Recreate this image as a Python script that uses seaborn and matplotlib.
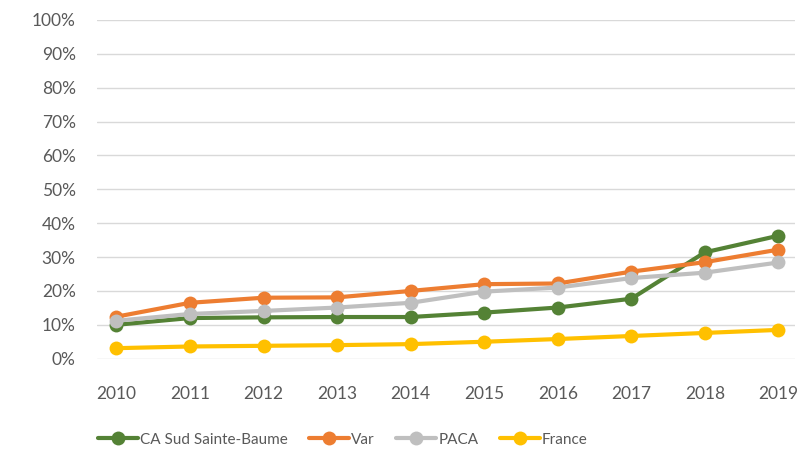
import numpy as np
import pandas as pd
import matplotlib
matplotlib.use('Agg')
import matplotlib.pyplot as plt
import seaborn as sns
from matplotlib.ticker import PercentFormatter

#%% data
years = [2010, 2011, 2012, 2013, 2014, 2015, 2016, 2017, 2018, 2019]
ca_sud = [10.0, 12.0, 12.2, 12.3, 12.3, 13.6, 15.1, 17.7, 31.4, 36.3]
var = [12.4, 16.5, 18.0, 18.1, 20.0, 22.0, 22.2, 25.7, 28.5, 32.2]
paca = [11.2, 13.2, 14.1, 15.1, 16.5, 19.8, 21.0, 23.8, 25.4, 28.4]
france = [3.1, 3.6, 3.8, 4.0, 4.3, 5.0, 5.8, 6.7, 7.6, 8.5]
series_names = ['CA Sud Sainte-Baume', 'Var', 'PACA', 'France']
colors = ['#548235', '#ED7D31', '#BFBFBF', '#FFC000']

df = pd.DataFrame({'annee': years * 4,
                   'valeur': ca_sud + var + paca + france,
                   'serie': np.repeat(series_names, len(years))})

#%% plot
sns.set_style('white')
plt.rcParams['font.family'] = ['Lato', 'DejaVu Sans']

fig = plt.figure(figsize=(8.05, 4.51), dpi=100)
ax = fig.add_axes([0.12, 0.2047, 0.868, 0.751])

sns.lineplot(data=df, x='annee', y='valeur', hue='serie', hue_order=series_names,
             palette=colors, marker='o', markersize=10, markeredgewidth=0,
             linewidth=3, ax=ax)

ax.set_ylim(0, 100)
ax.set_xlim(2010 - 0.27, 2019 + 0.23)
ax.set_yticks(range(0, 101, 10))
ax.yaxis.set_major_formatter(PercentFormatter(decimals=0))
ax.set_xticks(years)
ax.set_xlabel('')
ax.set_ylabel('')
ax.grid(axis='y', color='#D9D9D9', linewidth=1)
ax.set_axisbelow(True)
for s in ax.spines.values():
    s.set_visible(False)
ax.tick_params(axis='both', length=0, labelsize=12.5, labelcolor='#595959')
ax.tick_params(axis='y', pad=15)
ax.tick_params(axis='x', pad=20)

ax.legend(loc='center left', bbox_to_anchor=(0.122, 0.025), bbox_transform=fig.transFigure,
          ncol=4, frameon=False, fontsize=11, labelcolor='#595959',
          handlelength=2.6, columnspacing=1.4, handletextpad=0.15,
          borderpad=0, borderaxespad=0)

plt.savefig('out.png', dpi=100)
